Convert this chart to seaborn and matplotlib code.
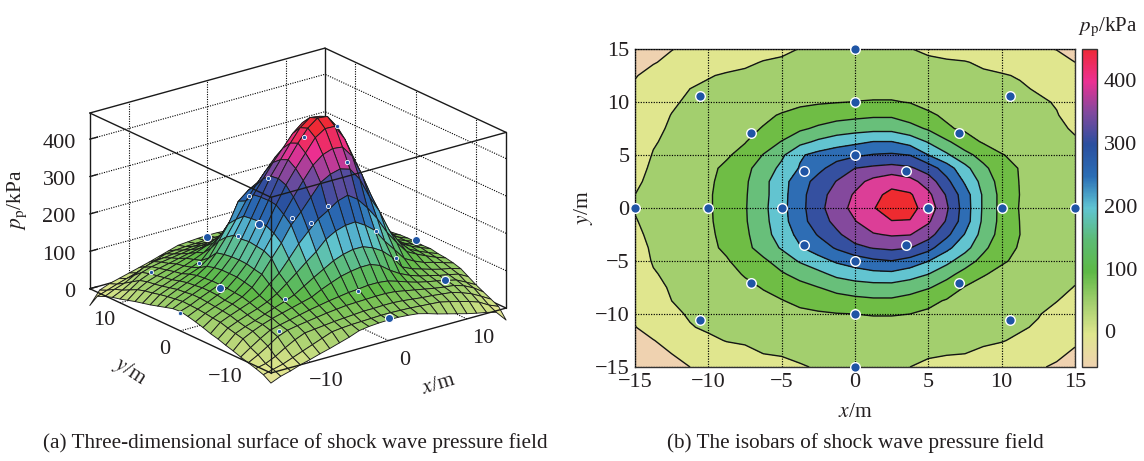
import numpy as np
import pandas as pd
import matplotlib
matplotlib.use('Agg')
import matplotlib.pyplot as plt
from matplotlib.cm import ScalarMappable
from matplotlib.colors import Normalize
import seaborn as sns

grid_x = [-15, -13.75, -12.5, -11.25, -10, -8.75, -7.5, -6.25, -5, -3.75, -2.5, -1.25, 0,
          1.25, 2.5, 3.75, 5, 6.25, 7.5, 8.75, 10, 11.25, 12.5, 13.75, 15]
grid_y = list(grid_x)
pressure = [
    [-27, -16, -9, 0, 7, 15, 22, 30, 38, 48, 52, 54, 55, 55, 53, 50, 43, 35, 28, 21, 14, 8, 3, -4, -32],
    [-14, -7, 0, 10, 20, 30, 40, 50, 53, 55, 56, 57, 58, 58, 57, 56, 54, 52, 50, 44, 37, 30, 21, 6, -5],
    [-7, -1, 11, 27, 41, 52, 55, 58, 61, 63, 65, 67, 67, 68, 68, 66, 63, 60, 58, 55, 52, 44, 34, 20, 5],
    [-1, 13, 29, 47, 57, 62, 66, 70, 74, 77, 80, 81, 82, 83, 83, 81, 76, 71, 66, 61, 57, 54, 46, 33, 15],
    [5, 23, 40, 55, 62, 68, 74, 80, 85, 90, 94, 98, 100, 103, 103, 100, 92, 83, 75, 69, 64, 58, 52, 39, 25],
    [12, 37, 50, 61, 70, 77, 84, 91, 98, 111, 122, 132, 138, 142, 142, 132, 112, 96, 84, 75, 69, 62, 57, 51, 37],
    [18, 42, 53, 62, 72, 82, 91, 102, 118, 134, 149, 164, 174, 180, 180, 170, 154, 130, 97, 85, 77, 69, 62, 57, 49],
    [25, 47, 58, 68, 77, 88, 103, 123, 144, 166, 186, 212, 227, 235, 237, 221, 200, 164, 134, 103, 89, 78, 71, 63, 55],
    [30, 53, 64, 74, 84, 96, 119, 141, 172, 205, 232, 257, 273, 291, 299, 281, 251, 215, 171, 136, 105, 91, 79, 68, 59],
    [37, 55, 67, 78, 90, 108, 136, 171, 205, 246, 274, 306, 338, 353, 360, 352, 318, 263, 218, 160, 122, 95, 82, 71, 61],
    [43, 58, 69, 79, 92, 113, 140, 182, 222, 265, 304, 341, 375, 396, 405, 402, 370, 313, 247, 181, 131, 100, 86, 75, 65],
    [48, 60, 71, 83, 94, 117, 145, 185, 232, 281, 327, 364, 398, 432, 449, 448, 407, 345, 274, 190, 135, 99, 85, 74, 64],
    [52, 61, 73, 84, 95, 117, 146, 188, 235, 284, 335, 378, 415, 448, 468, 465, 430, 357, 276, 193, 135, 97, 85, 75, 65],
    [50, 62, 73, 84, 95, 117, 145, 185, 233, 283, 332, 369, 406, 440, 460, 456, 412, 345, 273, 193, 135, 99, 86, 75, 65],
    [44, 59, 70, 81, 93, 114, 142, 186, 230, 280, 316, 352, 383, 415, 437, 418, 376, 314, 243, 183, 129, 98, 85, 74, 64],
    [38, 56, 68, 79, 91, 108, 137, 172, 212, 254, 288, 320, 350, 360, 367, 358, 327, 275, 215, 161, 122, 97, 83, 71, 61],
    [32, 52, 63, 74, 85, 95, 114, 152, 191, 244, 266, 281, 292, 303, 307, 299, 250, 208, 165, 132, 102, 90, 77, 67, 58],
    [27, 47, 58, 68, 77, 87, 98, 124, 152, 185, 209, 227, 239, 251, 251, 231, 196, 158, 121, 95, 84, 76, 69, 62, 53],
    [22, 43, 54, 64, 73, 81, 91, 102, 121, 142, 158, 172, 180, 185, 185, 167, 144, 105, 93, 84, 75, 68, 62, 55, 47],
    [16, 37, 51, 60, 68, 77, 85, 93, 103, 115, 125, 133, 138, 143, 143, 128, 106, 94, 85, 77, 70, 63, 58, 52, 35],
    [10, 27, 45, 56, 63, 69, 75, 81, 86, 91, 95, 98, 101, 103, 103, 98, 89, 82, 76, 71, 66, 61, 56, 47, 27],
    [5, 17, 32, 50, 58, 63, 67, 71, 75, 78, 81, 82, 83, 84, 84, 81, 77, 72, 67, 63, 59, 55, 46, 32, 18],
    [-2, 10, 19, 33, 47, 55, 58, 61, 64, 67, 68, 70, 71, 71, 70, 68, 65, 62, 59, 56, 53, 47, 37, 25, 9],
    [-11, -2, 7, 15, 23, 33, 43, 52, 55, 57, 58, 59, 60, 60, 59, 58, 56, 54, 52, 44, 36, 29, 20, 11, 0],
    [-45, -11, -1, 6, 13, 20, 27, 35, 43, 51, 53, 55, 56, 56, 54, 51, 44, 37, 30, 23, 16, 11, 5, -1, -13],
]

# Measuring points and the height they show at on the 3D surface
sensor_x = [-15, -10, -5, 5, 10, 15, 0, 0, 0, 0, 0, 0, -3.5, 3.5, -3.5, 3.5, -7.1, 7.1, -7.1, 7.1, -10.6, 10.6, -10.6, 10.6]
sensor_y = [0, 0, 0, 0, 0, 0, 15, 10, 5, -5, -10, -15, 3.5, 3.5, -3.5, -3.5, 7.1, 7.1, -7.1, -7.1, 10.6, 10.6, -10.6, -10.6]
sensor_z = [48, 87, 229, 433, 122, 70, 51, 91, 285, 285, 96, 59, 269, 384, 261, 371, 83, 107, 93, 120, 51, 70, 53, 67]
# which ones the surface leaves fully uncovered / completely hides in the 3D view
sensor_open = [1, 2, 5, 6, 11, 23]
sensor_hidden = [21]

contour_levels = [0, 50, 100, 150, 200, 250, 300, 350, 400, 450]
band_colors = ['#EFD2B0', '#E0E68E', '#A3CF6E', '#6FBD45', '#68BF7A', '#62C4D0',
               '#2E6DB4', '#3550A0', '#84499D', '#DC3E97', '#EE2B30']
bar_colors = ['#EFD2B0', '#E0E68E', '#A3CF6E', '#5DB946', '#5CBB75', '#5FC4D3',
              '#2A6DB5', '#2A4F9F', '#80499E', '#EC2F92', '#EE2A36']
bar_ticks = [0, 100, 200, 300, 400]
surf_ticks = [0, 100, 200, 300, 400]
floor_ticks = [-10, 0, 10]
map_ticks = [-15, -10, -5, 0, 5, 10, 15]

INK = '#231f20'
W, H = 1144, 461

sns.set_theme(style='white')
plt.rcParams['font.family'] = ['Liberation Serif', 'DejaVu Serif']
plt.rcParams['mathtext.fontset'] = 'stix'
plt.rcParams['text.color'] = INK
plt.rcParams['axes.labelcolor'] = INK
plt.rcParams['xtick.color'] = INK
plt.rcParams['ytick.color'] = INK

X, Y = np.meshgrid(grid_x, grid_y)
Z = np.array(pressure, dtype=float)
cmap = sns.blend_palette(bar_colors, n_colors=64, as_cmap=True)
norm = Normalize(-57, 450)

fig = plt.figure(figsize=(W / 100, H / 100), dpi=100)

# ---- (a) 3D surface
side = 440
ax3d = fig.add_axes([(292 - side / 2) / W, (H - 216.5 - side / 2) / H, side / W, side / H],
                    projection='3d', computed_zorder=False, proj_type='ortho')
ax3d.view_init(elev=21, azim=-127.6)
ax3d.set_box_aspect((1, 1, 0.634), zoom=1.015)
ax3d.set_xlim(-15, 15)
ax3d.set_ylim(-15, 15)
ztop = 470
ax3d.set_zlim(0, ztop)
ax3d.set_axis_off()
ax3d.patch.set_alpha(0)

dots = dict(color='black', linestyle=(0, (1, 1.2)), linewidth=0.8, zorder=1)
for t in floor_ticks:
    ax3d.plot([t, t], [-15, 15], [0, 0], **dots)
    ax3d.plot([-15, 15], [t, t], [0, 0], **dots)
    ax3d.plot([t, t], [15, 15], [0, ztop], **dots)
    ax3d.plot([15, 15], [t, t], [0, ztop], **dots)
for t in surf_ticks[1:]:
    ax3d.plot([-15, 15], [15, 15], [t, t], **dots)
    ax3d.plot([15, 15], [-15, 15], [t, t], **dots)

# Box edges, the ones nearest the viewer go over the surface
edge = dict(color='#1a1a1a', linewidth=1.0)
for z in [0, ztop]:
    ax3d.plot([-15, 15], [15, 15], [z, z], zorder=1, **edge)
    ax3d.plot([15, 15], [-15, 15], [z, z], zorder=1, **edge)
    ax3d.plot([-15, 15], [-15, -15], [z, z], zorder=5, **edge)
    ax3d.plot([-15, -15], [-15, 15], [z, z], zorder=5, **edge)
ax3d.plot([15, 15], [15, 15], [0, ztop], zorder=1, **edge)
ax3d.plot([-15, -15], [15, 15], [0, ztop], zorder=5, **edge)
ax3d.plot([15, 15], [-15, -15], [0, ztop], zorder=5, **edge)
ax3d.plot([-15, -15], [-15, -15], [0, ztop], zorder=5, **edge)

sx, sy, sz = np.array(sensor_x), np.array(sensor_y), np.array(sensor_z)
rest = [i for i in range(len(sx)) if i not in sensor_open and i not in sensor_hidden]
ax3d.scatter(sx[sensor_hidden], sy[sensor_hidden], sz[sensor_hidden], s=30, color='#1F55A5', zorder=1)
ax3d.plot_surface(X, Y, Z, cmap=cmap, norm=norm, rstride=1, cstride=1,
                  edgecolor='#1c1c1c', linewidth=0.65, antialiased=True, shade=False, zorder=2)
ax3d.scatter(sx[rest], sy[rest], sz[rest], s=9, color='#1F55A5', edgecolor='white',
             linewidth=0.6, depthshade=False, zorder=3)
ax3d.scatter(sx[sensor_open], sy[sensor_open], sz[sensor_open], s=34, color='#1F55A5', edgecolor='white',
             linewidth=0.8, depthshade=False, zorder=3)

tick_fs = 16
for t in surf_ticks:
    ax3d.text(-16.8, 15, t, str(t), ha='right', va='center', fontsize=tick_fs)
    ax3d.plot([-15, -14], [15, 15], [t, t], color='#1a1a1a', linewidth=1.0, zorder=1)
for t in floor_ticks:
    lab = str(t).replace('-', '\u2212')
    ax3d.text(t, -17.7, -32, lab, ha='center', va='center', fontsize=tick_fs)
    ax3d.text(-17, t, -37, lab, ha='center', va='center', fontsize=tick_fs)

fig.text(17 / W, 1 - 200 / H, r'$p_{\mathrm{p}}$/kPa', rotation=90, ha='center', va='center', fontsize=15.5)
fig.text(130 / W, 1 - 372 / H, r'$y$/m', rotation=-33, ha='center', va='center', fontsize=15.5)
fig.text(439 / W, 1 - 385 / H, r'$x$/m', rotation=17, ha='center', va='center', fontsize=15.5)
fig.text(295 / W, 1 - 443.5 / H, '(a) Three-dimensional surface of shock wave pressure field',
         ha='center', va='center', fontsize=15.3)

# ---- (b) isobars
ax = fig.add_axes([635 / W, (H - 367) / H, 440 / W, 318 / H])
ax.contourf(X, Y, Z, levels=[-60] + contour_levels + [500], colors=band_colors, zorder=1)
ax.contour(X, Y, Z, levels=contour_levels, colors='#141414', linewidths=1.0, linestyles='solid', zorder=2)
ax.set_axisbelow(False)
ax.grid(True, color='black', linestyle=(0, (1, 1.2)), linewidth=0.85)
ax.set_xlim(-15, 15)
ax.set_ylim(-15, 15)
ax.set_xticks(map_ticks)
ax.set_yticks(map_ticks)
ax.set_xticklabels([str(t).replace('-', '\u2212') for t in map_ticks])
ax.set_yticklabels([str(t).replace('-', '\u2212') for t in map_ticks])
ax.tick_params(length=0, labelsize=tick_fs, pad=4)
for s in ax.spines.values():
    s.set_color('#333333')
    s.set_linewidth(1.0)

sensors = pd.DataFrame({'x': sensor_x, 'y': sensor_y})
sns.scatterplot(data=sensors, x='x', y='y', s=48, color='#1F55A5', edgecolor='white', linewidth=1.0,
                ax=ax, clip_on=False, zorder=6, legend=False)
ax.set_xlabel(r'$x$/m', fontsize=15.5, labelpad=8)
ax.set_ylabel(r'$y$/m', fontsize=15.5, labelpad=0)

cax = fig.add_axes([1082 / W, (H - 367) / H, 15 / W, 318 / H])
cb = fig.colorbar(ScalarMappable(norm=norm, cmap=cmap), cax=cax)
cb.set_ticks(bar_ticks)
cb.ax.tick_params(direction='in', length=5, width=1, labelsize=tick_fs, pad=5, color='#333333')
cb.outline.set_edgecolor('#333333')
cb.outline.set_linewidth(1.0)
fig.text(1108 / W, 1 - 27 / H, r'$p_{\mathrm{p}}$/kPa', ha='center', va='center', fontsize=15)
fig.text(855 / W, 1 - 443.5 / H, '(b) The isobars of shock wave pressure field',
         ha='center', va='center', fontsize=15.3)

fig.savefig('out.png', dpi=100, facecolor='white')
